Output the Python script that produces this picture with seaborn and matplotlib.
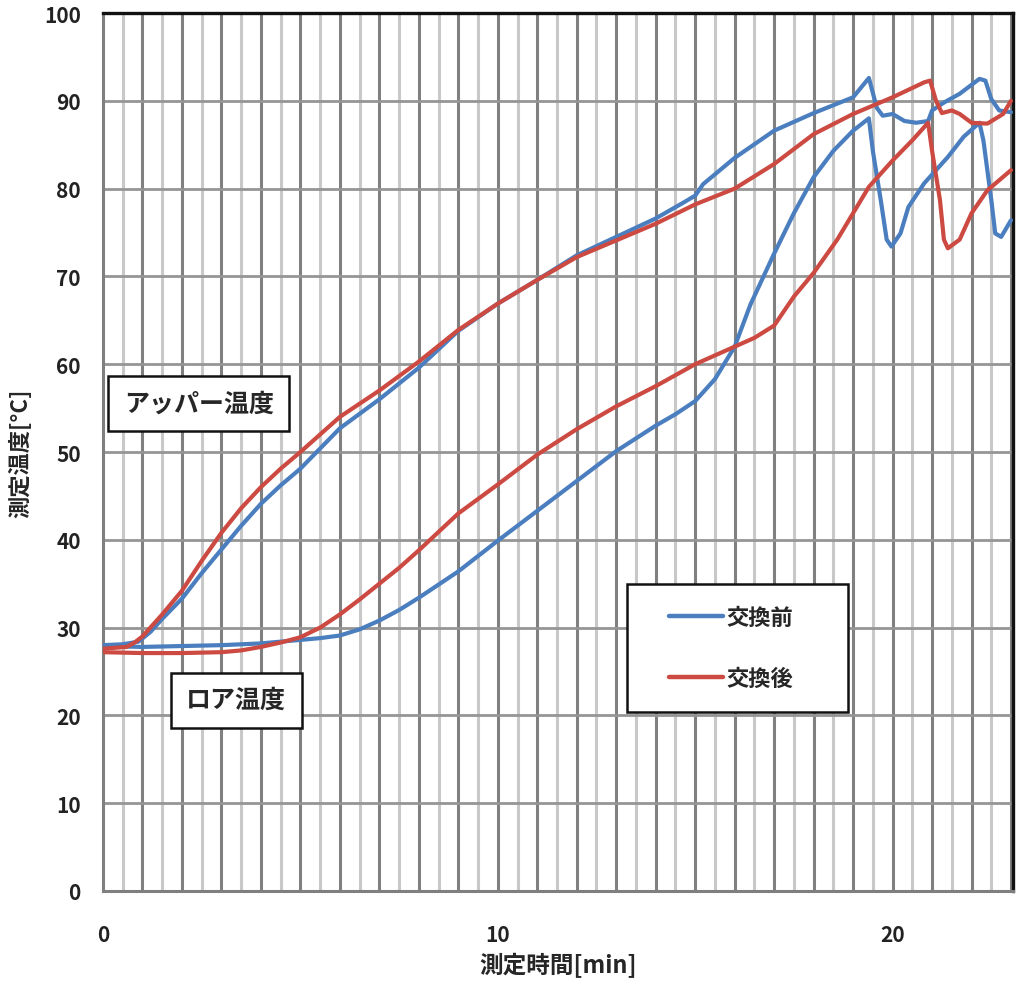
import numpy as np
import pandas as pd
import matplotlib
matplotlib.use("Agg")
import matplotlib.pyplot as plt
from matplotlib.patches import Rectangle
from matplotlib.lines import Line2D
from matplotlib.ticker import MultipleLocator, FixedLocator
import seaborn as sns

# ---------------- data ----------------
before_upper_t = [0, 0.5, 0.9, 1.2, 1.5, 2, 2.5, 3, 3.5, 4, 4.5, 5, 6, 7, 8, 9, 10, 11, 12, 13, 14,
                  14.7, 15.0, 15.2, 16, 17, 18, 19, 19.4, 19.6, 19.75, 20.0, 20.3, 20.6, 20.9, 21.0,
                  21.3, 21.7, 22.2, 22.35, 22.5, 22.7, 23.0]
before_upper_v = [28.0, 28.1, 28.4, 29.5, 31.0, 33.3, 36.2, 38.9, 41.6, 44.1, 46.2, 48.1, 52.7, 56.0,
                  59.6, 63.8, 66.9, 69.6, 72.4, 74.5, 76.6, 78.4, 79.2, 80.5, 83.5, 86.6, 88.6, 90.4,
                  92.6, 89.2, 88.3, 88.5, 87.7, 87.5, 87.7, 88.9, 89.8, 90.8, 92.5, 92.3, 90.2, 88.9, 88.7]

after_upper_t = [0, 0.6, 0.8, 1.0, 1.5, 2, 2.5, 3, 3.5, 4, 4.5, 5, 6, 7, 8, 9, 10, 11, 12, 13, 14,
                 15, 16, 17, 18, 19, 20, 20.8, 20.95, 21.1, 21.25, 21.5, 21.7, 22.0, 22.4, 22.8, 23.0]
after_upper_v = [27.6, 27.8, 28.3, 29.0, 31.5, 34.2, 37.6, 40.8, 43.6, 46.0, 48.1, 50.0, 54.0, 57.0,
                 60.3, 63.9, 66.9, 69.6, 72.2, 74.1, 76.0, 78.2, 80.0, 82.8, 86.2, 88.5, 90.4, 92.1,
                 92.3, 90.0, 88.6, 88.9, 88.5, 87.5, 87.4, 88.5, 90.0]

before_lower_t = [0, 1, 2, 3, 4, 4.5, 5, 5.5, 6, 6.5, 7, 7.5, 8, 9, 10, 11, 12, 13, 14, 14.5, 15,
                  15.5, 16, 16.4, 17, 17.5, 18, 18.5, 19, 19.4, 19.5, 19.7, 19.85, 19.97, 20.2, 20.4,
                  20.8, 21.1, 21.4, 21.8, 22.2, 22.3, 22.5, 22.6, 22.75, 23.0]
before_lower_v = [27.9, 27.8, 27.9, 28.0, 28.2, 28.4, 28.6, 28.8, 29.1, 29.8, 30.8, 32.0, 33.4, 36.4,
                  39.9, 43.3, 46.7, 50.1, 53.0, 54.3, 55.8, 58.3, 62.0, 66.8, 72.6, 77.2, 81.3, 84.3,
                  86.6, 88.0, 84.3, 78.7, 74.2, 73.4, 74.9, 77.9, 80.6, 82.1, 83.6, 85.9, 87.5, 85.5,
                  78.7, 74.9, 74.5, 76.4]

after_lower_t = [0, 1, 2, 3, 3.5, 4, 4.5, 5, 5.5, 6, 6.5, 7, 7.5, 8, 9, 10, 11, 12, 13, 14, 15, 16,
                 16.5, 17, 17.5, 18, 18.6, 19, 19.4, 20, 20.5, 20.9, 21.0, 21.2, 21.3, 21.4, 21.7,
                 22.0, 22.4, 23.0]
after_lower_v = [27.2, 27.1, 27.1, 27.2, 27.4, 27.8, 28.3, 28.9, 30.0, 31.5, 33.2, 35.0, 36.8, 38.8,
                 43.0, 46.3, 49.7, 52.6, 55.2, 57.5, 60.0, 62.0, 63.0, 64.4, 67.7, 70.4, 74.2, 77.2,
                 80.2, 83.2, 85.5, 87.5, 84.3, 78.7, 74.2, 73.2, 74.2, 77.2, 79.8, 82.1]

series_labels = ["交換前", "交換後"]
x_ticks = [0, 10, 20]
y_ticks = [0, 10, 20, 30, 40, 50, 60, 70, 80, 90, 100]
x_label = "測定時間[min]"
y_label = "測定温度[°C]"
upper_label = "アッパー温度"
lower_label = "ロア温度"

# ---------------- build long table ----------------
frames = []
for t, v, cond, pos in [
    (before_upper_t, before_upper_v, series_labels[0], "upper"),
    (before_lower_t, before_lower_v, series_labels[0], "lower"),
    (after_upper_t, after_upper_v, series_labels[1], "upper"),
    (after_lower_t, after_lower_v, series_labels[1], "lower"),
]:
    frames.append(pd.DataFrame({"time": t, "temp": v, "cond": cond, "pos": pos}))
df = pd.concat(frames, ignore_index=True)
df["unit"] = df["cond"] + "_" + df["pos"]

# ---------------- styling ----------------
sns.set_style("white")
plt.rcParams["font.family"] = ["Noto Sans CJK JP", "DejaVu Sans"]

colors = {series_labels[0]: "#4a7ebf", series_labels[1]: "#cc4a42"}

fig = plt.figure(figsize=(10.24, 9.87), dpi=100)
ax = fig.add_axes([103 / 1024, 1 - 892 / 987, 910 / 1024, 878 / 987])

sns.lineplot(data=df, x="time", y="temp", hue="cond", units="unit", estimator=None,
             sort=False, palette=colors, linewidth=3.0, ax=ax, legend=False, zorder=3)

ax.set_xlim(0, 23.05)
ax.set_ylim(0, 100)

# grid
ax.xaxis.set_major_locator(FixedLocator(x_ticks))
ax.xaxis.set_minor_locator(MultipleLocator(0.5))
ax.yaxis.set_major_locator(FixedLocator(y_ticks))
for m in np.arange(0.5, 23.05, 0.5):
    if abs(m - round(m)) < 1e-6:
        ax.axvline(m, color="#808080", lw=2.2, zorder=1)
    else:
        ax.axvline(m, color="#c8c8c8", lw=2.2, zorder=1)
for yv in y_ticks[1:-1]:
    ax.axhline(yv, color="#959595", lw=2.0, zorder=1)

for s in ["left", "bottom"]:
    ax.spines[s].set_color("#7f7f7f")
    ax.spines[s].set_linewidth(2.2)
for s in ["top", "right"]:
    ax.spines[s].set_color("#111111")
    ax.spines[s].set_linewidth(2.4)

ax.tick_params(axis="y", which="major", length=4, width=1.5, color="#7f7f7f",
               labelsize=15, pad=12)
ax.tick_params(axis="x", which="both", length=4, width=1.2, color="#a0a0a0",
               direction="out", labelsize=15, pad=20)
for lab in ax.get_xticklabels() + ax.get_yticklabels():
    lab.set_fontweight("bold")
    lab.set_color("#222222")

ax.set_xlabel(x_label, fontsize=17, fontweight="bold", labelpad=5)
ax.set_ylabel(y_label, fontsize=16, fontweight="bold", labelpad=8)

# annotation boxes
box = dict(boxstyle="square,pad=0.62", facecolor="white", edgecolor="#111111", linewidth=1.8)
ax.text(2.43, 55.5, upper_label, ha="center", va="center", fontsize=18, fontweight="bold",
        bbox=box, zorder=5)
box2 = dict(boxstyle="square,pad=0.62", facecolor="white", edgecolor="#111111", linewidth=1.8)
ax.text(3.37, 21.75, lower_label, ha="center", va="center", fontsize=18, fontweight="bold",
        bbox=box2, zorder=5)

# legend inside a framed box
rect = Rectangle((0.5758, 0.2039), 0.2429, 0.1458, transform=ax.transAxes,
                 facecolor="white", edgecolor="#111111", linewidth=1.8, zorder=5)
ax.add_patch(rect)
handles = [Line2D([], [], color=colors[l], lw=3.2) for l in series_labels]
leg = ax.legend(handles, series_labels, loc="center", bbox_to_anchor=(0.69, 0.2768),
                frameon=False, handlelength=2.4, handletextpad=0.15,
                labelspacing=1.7, prop={"weight": "bold", "size": 16})
leg.set_zorder(6)

fig.savefig("out.png", dpi=100)
